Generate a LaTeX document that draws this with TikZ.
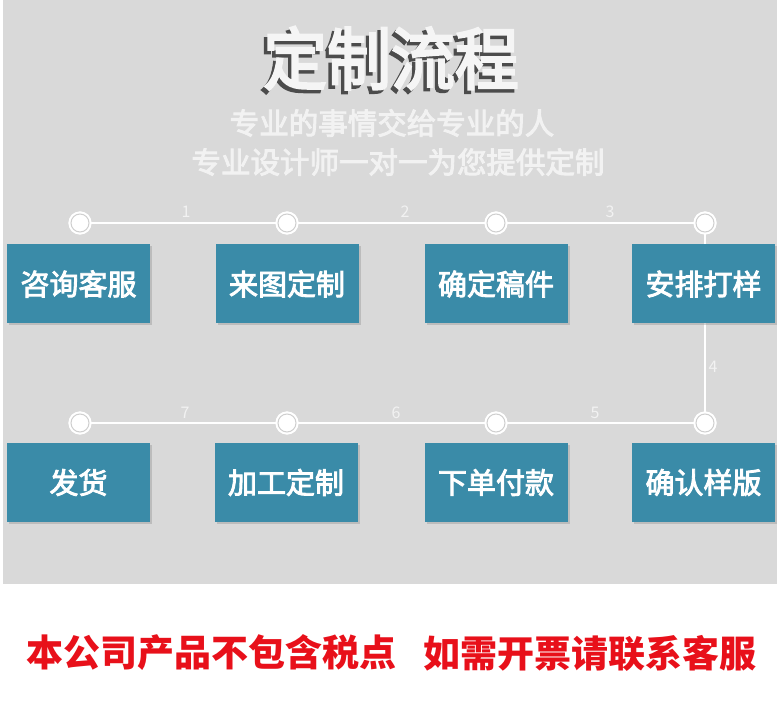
\documentclass[tikz,border=0pt]{standalone}
\usepackage{fontspec}
\usetikzlibrary{shadows}
\newfontfamily\cjk{Noto Sans CJK SC}
\newfontfamily\cjkm[FakeBold=3]{Noto Sans CJK SC}
\newfontfamily\cjkt[FakeBold=3.5]{Noto Sans CJK SC}
\definecolor{bgc}{HTML}{D9D9D9}
\definecolor{boxc}{HTML}{3A8BA8}
\definecolor{ringc}{HTML}{CFCFCF}
\definecolor{redc}{HTML}{E8101A}
\definecolor{subc}{HTML}{F2F2F2}
\begin{document}
\begin{tikzpicture}[x=1pt,y=-1pt,
  stepbox/.style={fill=boxc, minimum width=143pt, minimum height=79pt, inner sep=0pt,
    text=white, font=\cjkm\fontsize{29}{29}\selectfont,
    drop shadow={shadow xshift=2pt, shadow yshift=-2pt, fill=black!40, opacity=0.45}},
  dot/.style={circle, minimum size=18pt, inner sep=0pt, fill=white, draw=white,
    line width=2pt, double=ringc, double distance=1pt},
  conn/.style={draw=white, line width=2.5pt},
  num/.style={text=subc, font=\cjk\fontsize{16}{16}\selectfont, inner sep=0pt},
  sub/.style={text=subc, font=\cjkm\fontsize{29.5}{29.5}\selectfont, inner sep=0pt},
  red/.style={text=redc, font=\cjk\bfseries\fontsize{37}{37}\selectfont, inner sep=0pt}]
\useasboundingbox (0,0) rectangle (780,719);
\fill[white] (0,0) rectangle (780,719);
\fill[bgc] (3,0) rectangle (777,584);
% title with shadow
\node[text=white!96!black, font=\cjkt\fontsize{68}{68}\selectfont, inner sep=0pt, xscale=0.94] (title) at (391,60)
  {\makebox[0pt][l]{\hspace{-3.5pt}\raisebox{-3.5pt}{\textcolor{black!70}{定制流程}}}定制流程};
\node[sub] (sub1) at (392,123) {专业的事情交给专业的人};
\node[sub] (sub2) at (398,162) {专业设计师一对一为您提供定制};
% circles
\node[dot] (c1) at (80,223) {};
\node[dot] (c2) at (287,223) {};
\node[dot] (c3) at (496,223) {};
\node[dot] (c4) at (705,223) {};
\node[dot] (c5) at (705,423) {};
\node[dot] (c6) at (496,423) {};
\node[dot] (c7) at (287,423) {};
\node[dot] (c8) at (80,423) {};
% connectors
\draw[conn] (c1) -- (c2);
\draw[conn] (c2) -- (c3);
\draw[conn] (c3) -- (c4);
\draw[conn] (c4) -- (c5);
\draw[conn] (c5) -- (c6);
\draw[conn] (c6) -- (c7);
\draw[conn] (c7) -- (c8);
% redraw circles on top
\foreach \n in {c1,c2,c3,c4,c5,c6,c7,c8} {\node[dot] at (\n) {};}
% numbers
\node[num] (n1) at (186,212) {1};
\node[num] (n2) at (405,212) {2};
\node[num] (n3) at (610,212) {3};
\node[num] (n4) at (713,367) {4};
\node[num] (n5) at (595,413) {5};
\node[num] (n6) at (396,413) {6};
\node[num] (n7) at (185,413) {7};
% boxes
\node[stepbox] (b1) at (78.5,284) {咨询客服};
\node[stepbox] (b2) at (287,284) {来图定制};
\node[stepbox] (b3) at (496,284) {确定稿件};
\node[stepbox] (b4) at (703.5,284) {安排打样};
\node[stepbox] (b8) at (78.5,482.5) {发货};
\node[stepbox] (b7) at (286,482.5) {加工定制};
\node[stepbox] (b6) at (496,482.5) {下单付款};
\node[stepbox] (b5) at (703.5,482.5) {确认样版};
% bottom note
\node[red] (note1) at (212,653) {本公司产品不包含税点};
\node[red] (note2) at (590,653) {如需开票请联系客服};
\end{tikzpicture}
\end{document}
